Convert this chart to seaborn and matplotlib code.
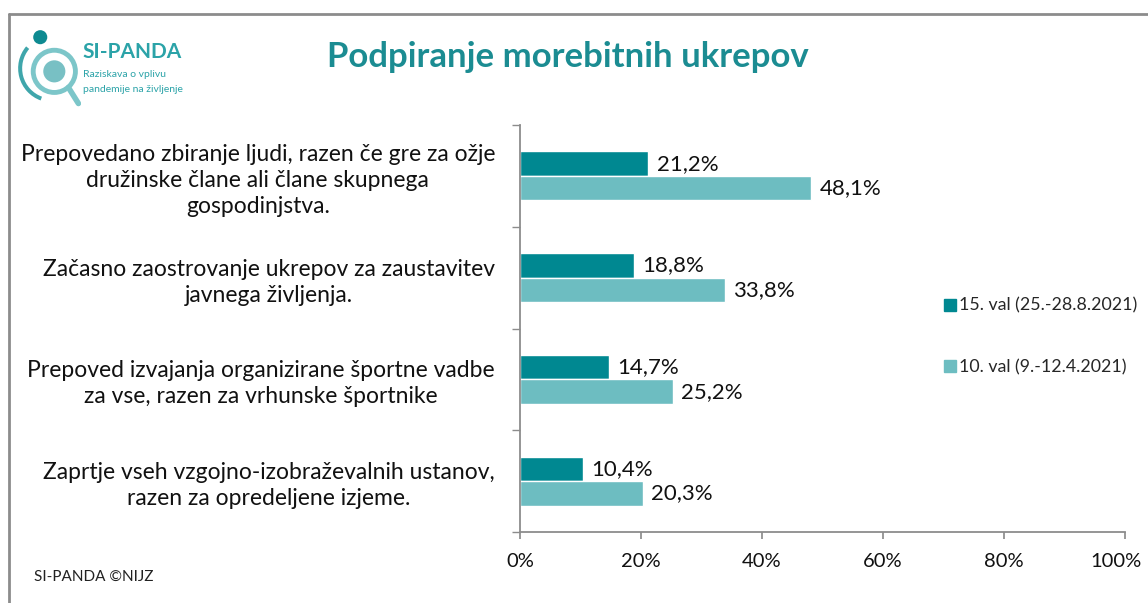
import numpy as np
import pandas as pd
import matplotlib
matplotlib.use("Agg")
import matplotlib.pyplot as plt
import matplotlib.transforms as mtrans
from matplotlib.patches import Circle, Wedge
from matplotlib.lines import Line2D
import seaborn as sns

# ── DATA ──────────────────────────────────────────────────────────────────────
CATEGORIES = [
    "Prepovedano zbiranje ljudi, razen če gre za ožje\ndružinske člane ali člane skupnega\ngospodinjstva.",
    "Začasno zaostrovanje ukrepov za zaustavitev\njavnega življenja.",
    "Prepoved izvajanja organizirane športne vadbe\nza vse, razen za vrhunske športnike",
    "Zaprtje vseh vzgojno-izobraževalnih ustanov,\nrazen za opredeljene izjeme.",
]
WAVES    = ["15. val (25.-28.8.2021)", "10. val (9.-12.4.2021)"]
VAL_15   = [21.2, 18.8, 14.7, 10.4]
VAL_10   = [48.1, 33.8, 25.2, 20.3]
XTICKS   = [0, 20, 40, 60, 80, 100]

COLORS = ["#008891", "#6DBDC1"]
TEAL   = "#1B8C92"
GREY   = "#8C8C8C"

df = pd.DataFrame({
    "cat":  CATEGORIES * 2,
    "wave": [WAVES[0]] * 4 + [WAVES[1]] * 4,
    "val":  VAL_15 + VAL_10,
})

# ── PLOT ──────────────────────────────────────────────────────────────────────
sns.set_theme(style="white")
plt.rcParams["font.family"] = ["Lato", "DejaVu Sans"]

fig = plt.figure(figsize=(11.48, 6.03), dpi=100)
ax = fig.add_axes([0.453, 0.1177, 0.527, 0.675])

sns.barplot(data=df, y="cat", x="val", hue="wave", palette=COLORS,
            orient="h", width=0.48, saturation=1, ax=ax, legend=False)

for cont in ax.containers:
    ax.bar_label(cont, labels=[f"{v:.1f}%".replace(".", ",") for v in cont.datavalues],
                 padding=6, fontsize=16, color="#111111")

ax.set_xlim(0, 100)
ax.set_ylim(3.5, -0.5)
ax.set_xticks(XTICKS)
ax.set_xticklabels([f"{t}%" for t in XTICKS], fontsize=14.5, color="#111111")
ax.tick_params(axis="x", length=5, color=GREY, pad=10, direction="out", bottom=True)
# nudge "100%" so it stays inside the canvas
last = ax.get_xticklabels()[-1]
last.set_transform(last.get_transform() +
                   mtrans.ScaledTranslation(-9 / 100, 0, fig.dpi_scale_trans))
ax.set_yticks(range(len(CATEGORIES)))
ax.set_yticklabels(CATEGORIES, fontsize=16.5, color="#111111",
                   multialignment="center", linespacing=1.3)
ax.tick_params(axis="y", length=0, pad=18)
ax.set_yticks(np.arange(-0.5, len(CATEGORIES), 1), minor=True)
ax.tick_params(axis="y", which="minor", length=6, color=GREY, left=True)
ax.set_xlabel(""); ax.set_ylabel("")
for s in ["top", "right"]:
    ax.spines[s].set_visible(False)
for s in ["left", "bottom"]:
    ax.spines[s].set_color(GREY)
    ax.spines[s].set_linewidth(1.3)

# legend
handles = [Line2D([], [], marker="s", ls="", color=c, markersize=9) for c in COLORS]
fig.legend(handles, WAVES, loc="upper left", bbox_to_anchor=(0.806, 0.533),
           frameon=False, fontsize=12.8, handletextpad=0.0, labelspacing=2.55,
           handlelength=1.0)

# title
fig.text(0.495, 0.906, "Podpiranje morebitnih ukrepov", ha="center", va="center",
         fontsize=25, fontweight="bold", color=TEAL)

# logo (simplified)
lax = fig.add_axes([0.010, 0.795, 0.065, 0.175])
lax.set_xlim(0, 65); lax.set_ylim(0, 105)
lax.set_aspect("equal"); lax.axis("off")
lax.add_patch(Circle((38, 52), 21, fill=False, ec="#7CC6C9", lw=3.5))
lax.add_patch(Circle((38, 52), 11, fc="#3FA6AB", ec="none", alpha=0.7))
lax.add_patch(Circle((24, 86), 7, fc="#0E8A91", ec="none"))
lax.plot([52, 62], [36, 20], color="#7CC6C9", lw=4, solid_capstyle="round")
lax.add_patch(Wedge((36, 55), 34, 140, 250, width=4, fc="#3FA6AB", ec="none"))
fig.text(0.072, 0.913, "SI-PANDA", fontsize=15, fontweight="bold", color="#2BA3A8",
         va="center")
fig.text(0.072, 0.876, "Raziskava o vplivu", fontsize=7.5, color="#2BA3A8", va="center")
fig.text(0.072, 0.852, "pandemije na življenje", fontsize=7.5, color="#2BA3A8", va="center")

# footer
fig.text(0.030, 0.043, "SI-PANDA ©NIJZ", fontsize=11, color="#222222", va="center")

# frame
fig.add_artist(Line2D([0.008, 0.008], [0.0, 0.977], transform=fig.transFigure,
                      color=GREY, lw=2))
fig.add_artist(Line2D([0.008, 1.0], [0.977, 0.977], transform=fig.transFigure,
                      color=GREY, lw=2))

fig.savefig("out.png", dpi=100)
